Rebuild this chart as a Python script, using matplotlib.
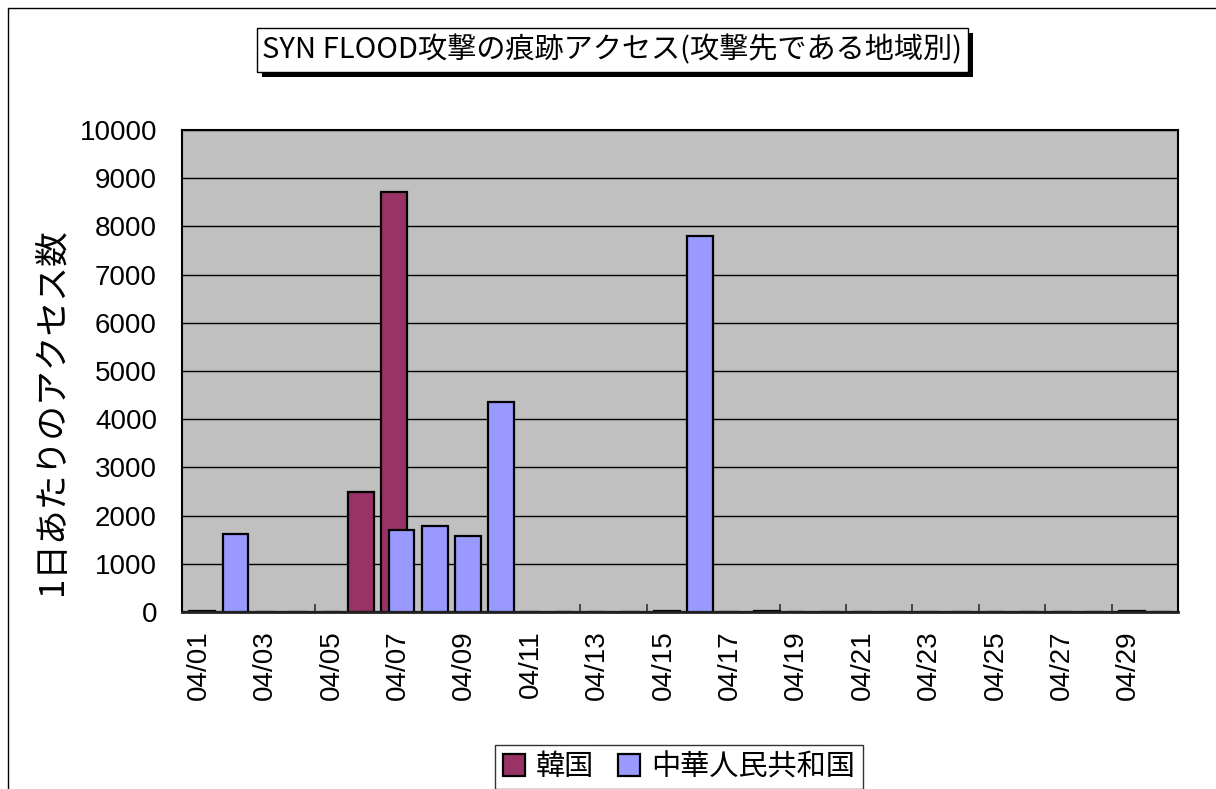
import matplotlib
matplotlib.use("Agg")
import matplotlib.pyplot as plt
from matplotlib.patches import Rectangle
import numpy as np

plt.rcParams['font.family'] = ['Liberation Sans', 'Noto Sans CJK JP', 'DejaVu Sans']

days = [f"04/{d:02d}" for d in range(1, 31)]
korea = [0, 0, 0, 0, 0, 2490, 8710, 0, 0, 0, 0, 0, 0, 0, 0,
         0, 0, 0, 0, 0, 0, 0, 0, 0, 0, 0, 0, 0, 0, 0]
china = [30, 1620, 0, 0, 0, 0, 1700, 1775, 1575, 4360, 0, 0, 0, 0, 30,
         7800, 0, 30, 0, 0, 0, 0, 0, 0, 0, 0, 0, 0, 30, 0]
series_names = ["韓国", "中華人民共和国"]
yticks = list(range(0, 10001, 1000))

W, H = 1216, 789
fig = plt.figure(figsize=(W / 100, H / 100), dpi=100)

# outer chart-area border (partially cropped)
fig.add_artist(Rectangle((8 / W, -0.2), 1.3, 1.2 - 8 / H,
                         transform=fig.transFigure, fill=False,
                         edgecolor='black', linewidth=1.0))

ax = fig.add_axes([182 / W, 1 - 612 / H, (1178 - 182) / W, (612 - 130) / H])
ax.set_facecolor('#C0C0C0')

x = np.arange(len(days))
bw = 0.78
off = 0.11
ax.bar(x - off, korea, width=bw, color='#993366', edgecolor='black',
       linewidth=1.6, label=series_names[0], zorder=3)
ax.bar(x + off, china, width=bw, color='#9999FF', edgecolor='black',
       linewidth=1.6, label=series_names[1], zorder=3)

ax.set_xlim(-0.5, len(days) - 0.5)
ax.set_ylim(0, 10000)
ax.set_yticks(yticks)
ax.set_yticklabels([str(v) for v in yticks], fontsize=20)
ax.tick_params(axis='y', length=0, pad=18)
ax.yaxis.grid(True, color='black', linewidth=1.0, zorder=1)
ax.set_axisbelow(True)

ax.set_xticks(x[::2])
ax.set_xticklabels(days[::2], rotation=90, fontsize=20)
ax.set_xticks(np.arange(1.5, len(days), 2), minor=True)
ax.tick_params(axis='x', which='major', length=0, pad=13)
ax.tick_params(axis='x', which='minor', direction='in', length=6,
               width=1.2, color='#333333')

for s in ax.spines.values():
    s.set_color('black')
    s.set_linewidth(1.5)
    s.set_zorder(4)
ax.spines['bottom'].set_linewidth(2.0)
ax.spines['bottom'].set_color('#222222')

fig.text(53 / W, 1 - 412 / H, "1日あたりのアクセス数", rotation=90,
         fontsize=25, family=['Noto Sans CJK JP', 'DejaVu Sans'],
         ha='center', va='center')

# title box with shadow
bx0, by0, bx1, by1 = 257, 28, 968, 72
fig.add_artist(Rectangle(((bx0 + 5) / W, 1 - (by1 + 5) / H), (bx1 - bx0) / W,
                         (by1 - by0) / H, transform=fig.transFigure,
                         facecolor='black', edgecolor='black', linewidth=0))
fig.add_artist(Rectangle((bx0 / W, 1 - by1 / H), (bx1 - bx0) / W,
                         (by1 - by0) / H, transform=fig.transFigure,
                         facecolor='white', edgecolor='black', linewidth=1.0))
fig.text((bx0 + bx1) / 2 / W, 1 - (by0 + by1) / 2 / H,
         "SYN FLOOD攻撃の痕跡アクセス(攻撃先である地域別)",
         fontsize=21, family=['Noto Sans CJK JP', 'DejaVu Sans'],
         ha='center', va='center')

leg = fig.legend(loc='center', bbox_to_anchor=(679 / W, 1 - 767 / H),
                 ncol=2, frameon=True, fancybox=False,
                 edgecolor='black', handlelength=0.75, handleheight=0.75,
                 handletextpad=0.4, columnspacing=0.8, borderpad=0.25,
                 prop={'family': ['Noto Sans CJK JP', 'DejaVu Sans'], 'size': 21})
leg.get_frame().set_linewidth(1.0)

fig.savefig("out.png", dpi=100)
